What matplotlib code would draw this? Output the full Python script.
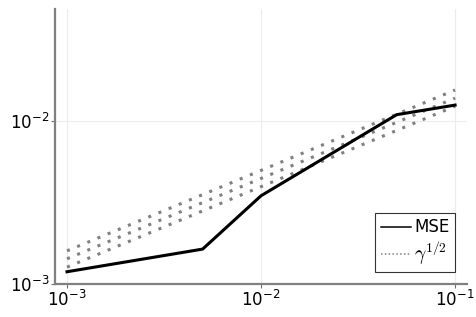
import numpy as np
import matplotlib
matplotlib.use("Agg")
import matplotlib.pyplot as plt
from matplotlib.ticker import LogLocator, NullLocator, FuncFormatter

# step sizes and measured mean squared error
gamma = [1e-3, 5e-3, 1e-2, 5e-2, 1e-1]
mse = [1.19e-3, 1.64e-3, 3.49e-3, 1.10e-2, 1.26e-2]

# gamma^(1/2) reference lines, given by their end points
ref_x = [1e-3, 1e-1]
ref_hi = [1.60e-3, 1.56e-2]
ref_mid = [1.43e-3, 1.39e-2]
ref_lo = [1.27e-3, 1.24e-2]

fig = plt.figure(figsize=(4.76, 3.17), dpi=100)
ax = fig.add_axes([0.1155, 0.104, 0.865, 0.8675])

ax.plot(gamma, mse, color="black", lw=2.2, label="MSE", zorder=3)
for i, ys in enumerate([ref_hi, ref_mid, ref_lo]):
    ax.plot(ref_x, ys, color="#808080", lw=2.2, ls=(0, (1.0, 2.6)),
            dash_capstyle="butt", label=r"$\gamma^{1/2}$" if i == 0 else None)

ax.set_xscale("log")
ax.set_yscale("log")
ax.set_xlim(10 ** -3.062, 10 ** -0.94)
ax.set_ylim(1e-3, 10 ** -1.309)

fmt = FuncFormatter(lambda v, p: r"$10^{%d}$" % int(round(np.log10(v))))
ax.xaxis.set_major_locator(LogLocator(base=10, numticks=10))
ax.yaxis.set_major_locator(LogLocator(base=10, numticks=10))
ax.xaxis.set_minor_locator(NullLocator())
ax.yaxis.set_minor_locator(NullLocator())
ax.xaxis.set_major_formatter(fmt)
ax.yaxis.set_major_formatter(fmt)
ax.tick_params(labelsize=12, length=3, width=0.8, color="#707070", pad=1)

ax.grid(True, color="#ececec", lw=0.8)
for s in ["top", "right"]:
    ax.spines[s].set_visible(False)
for s in ["left", "bottom"]:
    ax.spines[s].set_color("#808080")
    ax.spines[s].set_linewidth(1.6)

leg = ax.legend(loc="lower right", fontsize=12, frameon=True, fancybox=False,
                edgecolor="black", handlelength=1.8, handletextpad=0.2,
                borderpad=0.35, labelspacing=0.15, borderaxespad=0.7)
leg.get_frame().set_linewidth(0.8)
for ln in leg.get_lines():
    ln.set_linewidth(1.1)
leg.get_lines()[1].set_linestyle((0, (1.0, 1.5)))
leg.get_texts()[1].set_math_fontfamily("cm")
leg.get_texts()[1].set_fontsize(14)

fig.savefig("out.png", dpi=100)
